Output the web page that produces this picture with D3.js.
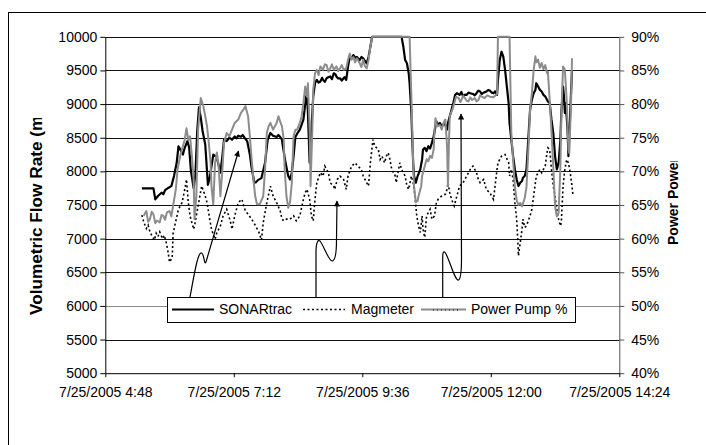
<!DOCTYPE html>
<html><head><meta charset="utf-8">
<script src="https://cdn.jsdelivr.net/npm/d3@7"></script>
<style>
body{margin:0;background:#fff}
svg{display:block}
text{font-family:"Liberation Sans",Arial,sans-serif;fill:#000}
</style>
</head><body>
<svg id="chart" width="706" height="445"></svg>
<script>
// ---------------- data ----------------
const seriesNames = ["SONARtrac", "Magmeter", "Power Pump %"];
const leftTicks = [5000,5500,6000,6500,7000,7500,8000,8500,9000,9500,10000];
const rightTicks = [40,45,50,55,60,65,70,75,80,85,90];
const timeTicks = ["4:48","7:12","9:36","12:00","14:24"];
const leftTitle = "Volumetric Flow Rate (m³/hr)";
const rightTitle = "Power Power %";

const sonarData = [["5:29",7747],["5:42",7747],["5:44",7584],["5:47",7634],["5:51",7683],["5:53",7660],["5:55",7720],["5:59",7757],["6:02",7780],["6:05",7930],["6:08",8127],["6:10",8373],["6:13",8300],["6:15",8250],["6:17",8350],["6:20",8450],["6:22",8350],["6:24",8000],["6:27",7750],["6:29",7950],["6:31",8600],["6:33",8950],["6:35",8800],["6:37",8600],["6:40",8400],["6:42",8000],["6:43",7800],["6:45",7900],["6:49",8250],["6:52",8220],["6:54",8150],["6:57",7980],["6:59",8200],["7:01",8470],["7:04",8450],["7:07",8500],["7:10",8470],["7:13",8520],["7:15",8490],["7:17",8530],["7:20",8515],["7:22",8540],["7:24",8500],["7:27",8450],["7:30",8250],["7:32",8050],["7:35",7830],["7:37",7840],["7:39",7870],["7:43",7900],["7:47",8127],["7:50",8470],["7:53",8570],["7:56",8530],["8:00",8510],["8:02",8540],["8:04",8511],["8:06",8470],["8:07",8373],["8:10",8127],["8:13",7930],["8:15",7880],["8:17",7980],["8:19",8225],["8:21",8511],["8:23",8560],["8:26",8620],["8:30",8768],["8:33",9112],["8:34",9140],["8:35",8890],["8:37",8127],["8:39",8620],["8:41",9112],["8:43",9310],["8:45",9360],["8:47",9320],["8:49",9335],["8:51",9390],["8:52",9360],["8:54",9330],["8:56",9384],["8:58",9400],["9:00",9410],["9:02",9370],["9:04",9458],["9:06",9440],["9:07",9410],["9:09",9380],["9:11",9384],["9:13",9350],["9:15",9384],["9:16",9400],["9:18",9360],["9:20",9556],["9:22",9700],["9:24",9680],["9:26",9729],["9:28",9690],["9:30",9700],["9:33",9650],["9:35",9700],["9:37",9680],["9:39",9640],["9:41",9605],["9:43",9700],["9:45",9850],["9:47",10000],["10:20",10000],["10:22",9852],["10:24",9655],["10:26",9606],["10:28",9458],["10:29",9310],["10:31",8867],["10:32",8473],["10:33",8127],["10:34",7930],["10:36",7832],["10:38",7930],["10:41",8029],["10:43",8177],["10:44",8325],["10:46",8349],["10:48",8300],["10:50",8374],["10:52",8340],["10:54",8423],["10:56",8522],["10:58",8670],["10:59",8744],["11:01",8694],["11:03",8720],["11:05",8670],["11:07",8700],["11:09",8694],["11:11",8620],["11:12",8720],["11:14",8818],["11:16",8917],["11:18",9015],["11:20",9137],["11:22",9162],["11:25",9137],["11:27",9180],["11:29",9112],["11:31",9140],["11:33",9137],["11:35",9170],["11:37",9162],["11:40",9150],["11:42",9130],["11:44",9162],["11:46",9200],["11:48",9186],["11:50",9150],["11:52",9170],["11:55",9186],["11:57",9210],["11:59",9200],["12:01",9170],["12:03",9160],["12:05",9190],["12:07",9136],["12:08",9357],["12:10",9653],["12:12",9778],["12:14",9704],["12:16",9507],["12:18",9260],["12:20",9014],["12:21",8719],["12:23",8472],["12:25",8226],["12:27",8029],["12:29",7880],["12:31",7782],["12:33",7831],["12:35",7856],["12:36",7905],["12:38",7930],["12:40",8029],["12:42",8472],["12:44",8916],["12:46",9063],["12:48",9162],["12:50",9211],["12:51",9310],["12:53",9260],["12:55",9211],["12:57",9186],["12:59",9137],["13:01",9112],["13:03",9063],["13:04",9038],["13:06",9014],["13:08",8768],["13:10",8571],["13:12",8226],["13:14",8029],["13:16",8127],["13:18",8472],["13:19",8867],["13:21",9260],["13:22",9112],["13:23",8867],["13:24",9014],["13:26",8620],["13:27",8226],["13:29",8867],["13:31",9507]];

const magmeterData = [["5:29",7350],["5:31",7250],["5:34",7150],["5:36",7200],["5:38",7100],["5:40",7050],["5:43",6980],["5:45",7080],["5:47",7030],["5:49",7100],["5:52",7000],["5:54",7050],["5:56",6960],["5:58",6830],["6:00",6650],["6:03",6720],["6:04",7080],["6:06",7200],["6:10",7437],["6:14",7535],["6:17",7730],["6:19",7880],["6:21",7535],["6:23",7338],["6:27",7140],["6:28",7190],["6:32",7486],["6:36",7782],["6:40",7634],["6:42",7535],["6:45",7290],["6:47",7140],["6:51",6990],["6:53",7090],["6:57",7190],["7:00",7338],["7:04",7437],["7:08",7265],["7:10",7140],["7:13",7338],["7:17",7535],["7:21",7585],["7:25",7412],["7:28",7363],["7:32",7290],["7:36",7200],["7:40",7100],["7:43",6980],["7:45",7240],["7:49",7535],["7:53",7780],["7:56",7634],["8:00",7535],["8:04",7412],["8:06",7290],["8:08",7265],["8:11",7290],["8:15",7290],["8:19",7338],["8:22",7265],["8:26",7338],["8:30",7585],["8:32",7683],["8:34",7733],["8:37",7585],["8:39",7338],["8:41",7265],["8:43",7585],["8:45",7830],["8:49",7980],["8:52",7930],["8:54",8077],["8:58",7980],["9:00",7830],["9:04",7782],["9:05",7732],["9:08",7880],["9:11",7930],["9:15",7880],["9:18",7732],["9:20",7930],["9:24",8077],["9:28",8127],["9:31",8078],["9:35",8029],["9:37",7930],["9:41",7830],["9:43",7782],["9:45",8127],["9:48",8472],["9:50",8374],["9:54",8325],["9:56",8177],["9:58",8226],["10:01",8127],["10:03",8226],["10:05",8275],["10:07",8177],["10:09",8029],["10:13",7930],["10:14",7832],["10:16",7980],["10:18",8127],["10:20",8029],["10:24",7930],["10:26",7782],["10:28",7733],["10:31",7930],["10:33",7832],["10:35",7634],["10:37",7338],["10:39",7190],["10:41",7092],["10:43",7338],["10:44",7141],["10:46",7018],["10:48",7338],["10:52",7437],["10:54",7289],["10:57",7338],["10:59",7535],["11:01",7584],["11:05",7634],["11:09",7659],["11:11",7733],["11:12",7832],["11:14",7683],["11:16",7585],["11:19",7486],["11:22",7634],["11:25",7782],["11:29",7832],["11:33",7930],["11:37",8029],["11:40",8078],["11:44",7980],["11:46",7880],["11:48",7832],["11:52",7880],["11:55",7730],["11:59",7680],["12:03",7584],["12:07",8029],["12:08",8127],["12:12",8226],["12:16",8250],["12:20",8127],["12:21",7930],["12:23",8029],["12:25",7880],["12:27",7535],["12:29",7290],["12:30",7042],["12:31",6746],["12:33",6943],["12:35",7141],["12:36",7289],["12:38",7166],["12:40",7190],["12:44",7338],["12:46",7437],["12:48",7634],["12:50",7832],["12:51",7930],["12:55",8029],["12:57",7980],["12:59",8029],["13:01",8078],["13:03",8275],["13:04",8349],["13:06",8324],["13:08",8029],["13:10",7782],["13:12",7634],["13:14",7437],["13:16",7289],["13:18",7190],["13:19",7240],["13:21",7782],["13:23",8029],["13:25",8176],["13:27",8127],["13:29",7980],["13:31",7782],["13:32",7659]];

const powerData = [["5:31",63.4],["5:34",64.1],["5:36",62.5],["5:38",62.9],["5:40",64.0],["5:42",63.6],["5:44",62.3],["5:46",62.7],["5:49",62.4],["5:51",63.5],["5:53",63.4],["5:55",62.8],["5:57",63.9],["6:00",64.1],["6:02",63.3],["6:04",64.9],["6:07",67.3],["6:09",70.3],["6:12",72.3],["6:14",73.3],["6:17",74.7],["6:19",76.4],["6:21",74.7],["6:23",75.2],["6:25",72.3],["6:27",68.8],["6:28",62.9],["6:30",66.3],["6:32",76.2],["6:35",80.9],["6:38",79.6],["6:40",78.2],["6:42",76.7],["6:44",74.2],["6:46",71.3],["6:47",67.8],["6:49",65.1],["6:51",71.3],["6:53",72.8],["6:55",70.8],["6:57",66.3],["6:59",69.8],["7:01",74.2],["7:04",75.7],["7:07",75.2],["7:10",76.2],["7:13",77.2],["7:17",77.7],["7:20",78.7],["7:23",79.2],["7:25",79.7],["7:28",78.2],["7:30",75.2],["7:32",71.8],["7:34",68.8],["7:36",66.3],["7:38",65.1],["7:41",65.1],["7:45",66.3],["7:47",70.3],["7:49",75.7],["7:51",76.7],["7:53",77.2],["7:56",76.2],["8:00",77.2],["8:02",78.2],["8:04",77.4],["8:06",76.7],["8:08",74.7],["8:09",70.3],["8:11",66.3],["8:13",64.6],["8:15",65.4],["8:17",68.3],["8:19",75.2],["8:21",76.2],["8:23",76.2],["8:26",77.2],["8:28",78.2],["8:30",80.1],["8:32",82.6],["8:34",81.1],["8:35",83.1],["8:37",76.2],["8:38",67.8],["8:40",76.2],["8:41",82.1],["8:43",84.6],["8:45",85.1],["8:47",84.3],["8:49",85.6],["8:52",85.1],["8:54",85.9],["8:56",85.8],["8:58",84.8],["9:00",85.3],["9:02",85.9],["9:04",85.1],["9:07",85.6],["9:09",84.9],["9:11",85.3],["9:13",85.8],["9:15",85.1],["9:18",85.3],["9:20",86.6],["9:22",87.5],["9:24",86.6],["9:26",87.0],["9:28",86.2],["9:30",86.8],["9:33",86.1],["9:35",85.5],["9:37",86.6],["9:39",85.6],["9:41",85.3],["9:43",86.6],["9:45",88.5],["9:47",90],["10:29",90],["10:31",81.1],["10:32",76.2],["10:33",71.3],["10:34",67.8],["10:36",65.4],["10:38",65.6],["10:39",66.3],["10:42",67.8],["10:43",69.3],["10:46",70.8],["10:48",71.8],["10:50",71.5],["10:52",72.3],["10:54",72.0],["10:56",73.3],["10:57",76.2],["10:58",77.9],["11:00",76.7],["11:03",76.9],["11:05",76.2],["11:07",77.2],["11:09",77.7],["11:11",73.7],["11:12",67.8],["11:13",73.7],["11:14",78.2],["11:17",79.2],["11:19",80.1],["11:21",81.1],["11:24",80.9],["11:26",80.3],["11:27",80.6],["11:29",81.2],["11:31",80.9],["11:33",80.5],["11:35",80.4],["11:37",81.0],["11:39",80.6],["11:42",80.9],["11:44",80.4],["11:46",80.6],["11:48",81.3],["11:50",81.1],["11:53",80.9],["11:56",81.3],["11:59",81.1],["12:03",81.0],["12:07",81.5],["12:08",90],["12:21",90],["12:23",75.7],["12:27",67.7],["12:29",65.7],["12:31",65.0],["12:33",65.3],["12:35",64.8],["12:36",65.2],["12:38",66.0],["12:40",67.7],["12:42",73.0],["12:44",79.1],["12:46",81.6],["12:48",85.0],["12:50",87.1],["12:51",86.2],["12:53",86.6],["12:55",85.4],["12:57",86.1],["12:59",85.2],["13:01",85.8],["13:03",84.6],["13:04",84.8],["13:06",80.6],["13:08",76.0],["13:10",70.7],["13:12",64.8],["13:14",63.3],["13:16",63.8],["13:18",70.7],["13:19",78.1],["13:21",85.6],["13:23",85.1],["13:25",80.6],["13:27",73.2],["13:28",72.7],["13:30",80.6],["13:31",86.8]];

// ---------------- chart ----------------
const toDate = s => { const [h, m] = s.split(":").map(Number); return new Date(2005, 6, 25, h, m); };
const svg = d3.select("#chart");
const plot = {left: 105.3, right: 619.3, top: 36.8, bottom: 373.2};

const x = d3.scaleTime().domain([toDate("4:48"), toDate("14:24")]).range([plot.left, plot.right]);
const yL = d3.scaleLinear().domain([5000, 10000]).range([plot.bottom, plot.top]);
const yR = d3.scaleLinear().domain([40, 90]).range([plot.bottom, plot.top]);

// outer frame
svg.append("rect").attr("x", 8.5).attr("y", 12.5).attr("width", 800).attr("height", 500)
  .attr("fill", "none").attr("stroke", "#000").attr("stroke-width", 1);

// gridlines
svg.append("g").selectAll("line").data(leftTicks.filter(d => d !== 5000)).join("line")
  .attr("x1", plot.left).attr("x2", plot.right)
  .attr("y1", d => Math.round(yL(d)) + 0.5).attr("y2", d => Math.round(yL(d)) + 0.5)
  .attr("stroke", d => d === 6000 ? "#8a8a8a" : "#111").attr("stroke-width", 1);

// clip
svg.append("clipPath").attr("id", "pc").append("rect")
  .attr("x", plot.left).attr("y", plot.top - 2).attr("width", plot.right - plot.left).attr("height", plot.bottom - plot.top + 2);

const fs = "14px";
// axes
const axL = svg.append("g").attr("transform", `translate(${plot.left},0)`)
  .call(d3.axisLeft(yL).tickValues(leftTicks).tickFormat(d3.format("d")).tickSize(5).tickSizeOuter(0).tickPadding(3));
const axR = svg.append("g").attr("transform", `translate(${plot.right},0)`)
  .call(d3.axisRight(yR).tickValues(rightTicks).tickFormat(d => d + "%").tickSize(5).tickSizeOuter(0).tickPadding(7));
const axB = svg.append("g").attr("transform", `translate(0,${plot.bottom})`)
  .call(d3.axisBottom(x).tickValues(timeTicks.map(toDate)).tickFormat(d3.timeFormat("%-m/%-d/%Y %-H:%M")).tickSize(4).tickSizeOuter(0).tickPadding(10));
[axL, axR, axB].forEach(a => {
  a.selectAll("text").style("font-size", fs).style("font-family", '"Liberation Sans",Arial,sans-serif').attr("fill", "#000");
  a.selectAll("line").attr("stroke", "#000");
  a.select(".domain").attr("stroke", "#000");
});
axR.select(".domain").attr("stroke", "#555");
axR.selectAll("line").attr("stroke", "#555");

// series
const g = svg.append("g").attr("clip-path", "url(#pc)");
const lineL = d3.line().x(d => x(toDate(d[0]))).y(d => yL(d[1]));
const lineR = d3.line().x(d => x(toDate(d[0]))).y(d => yR(d[1]));
const styles = [
  {stroke: "#000", width: 2.2, dash: null},
  {stroke: "#000", width: 1.6, dash: "2,2.5"},
  {stroke: "#8c8c8c", width: 2, dash: null}
];
g.append("path").datum(magmeterData).attr("d", lineL).attr("fill", "none")
  .attr("stroke", styles[1].stroke).attr("stroke-width", styles[1].width).attr("stroke-dasharray", styles[1].dash);
g.append("path").datum(sonarData).attr("d", lineL).attr("fill", "none")
  .attr("stroke", styles[0].stroke).attr("stroke-width", styles[0].width).attr("stroke-linejoin", "round");
g.append("path").datum(powerData).attr("d", lineR).attr("fill", "none")
  .attr("stroke", styles[2].stroke).attr("stroke-width", styles[2].width).attr("stroke-linejoin", "round");

// legend
const lg = svg.append("g");
lg.append("rect").attr("x", 167.5).attr("y", 297.5).attr("width", 408).attr("height", 25)
  .attr("fill", "#fff").attr("stroke", "#000");
const legendItems = [
  {x0: 172, x1: 214, tx: 219},
  {x0: 303, x1: 345, tx: 351},
  {x0: 421, x1: 466, tx: 471}
];
const ly = 309.5;
legendItems.forEach((it, i) => {
  const st = styles[i];
  lg.append("line").attr("x1", it.x0).attr("x2", it.x1).attr("y1", ly).attr("y2", ly)
    .attr("stroke", st.stroke).attr("stroke-width", st.width).attr("stroke-dasharray", st.dash);
  if (i === 2) {
    lg.append("line").attr("x1", it.x0 + 12).attr("x2", it.x1 - 8).attr("y1", ly + 0.5).attr("y2", ly + 0.5)
      .attr("stroke", "#000").attr("stroke-width", 1).attr("stroke-dasharray", "1,3");
  }
  lg.append("text").attr("x", it.tx).attr("y", ly).attr("dy", "0.35em")
    .style("font-size", fs).text(seriesNames[i]);
});

// annotation connectors
const defs = svg.append("defs");
defs.append("marker").attr("id", "ah").attr("viewBox", "0 0 10 10").attr("refX", 9).attr("refY", 5)
  .attr("markerWidth", 7).attr("markerHeight", 6).attr("markerUnits", "userSpaceOnUse").attr("orient", "auto")
  .append("path").attr("d", "M0,0L10,5L0,10z").attr("fill", "#000");
const connectors = [
  "M190,297 C195,270 198,252 201.5,253 C204.5,254 204,266 206,262 L238.5,151",
  "M316,297 L316,252 C316,243 318,239 320,241 C324,246 329,262 332.5,261 C335.5,260 336.5,252 336.5,240 L337,201",
  "M442.7,297 L442.7,258 C442.7,252 443.5,250.5 445.5,253 C450,261 455,281 458.5,280 C461,279 461.5,270 461.5,258 L461,114"
];
svg.append("g").selectAll("path").data(connectors).join("path")
  .attr("d", d => d).attr("fill", "none").attr("stroke", "#000").attr("stroke-width", 1.2)
  .attr("marker-end", "url(#ah)");

// axis titles (clipped like the original)
svg.append("clipPath").attr("id", "lt").append("rect").attr("x", 0).attr("y", 118).attr("width", 80).attr("height", 300);
svg.append("g").attr("clip-path", "url(#lt)")
  .append("text").attr("transform", "translate(42,315) rotate(-90)")
  .style("font-size", "17.2px").style("font-weight", "bold").text(leftTitle);
svg.append("clipPath").attr("id", "rt").append("rect").attr("x", 650).attr("y", 161).attr("width", 56).attr("height", 120);
svg.append("g").attr("clip-path", "url(#rt)")
  .append("text").attr("transform", "translate(678,245) rotate(-90)")
  .style("font-size", "14px").style("font-weight", "bold").text(rightTitle);
</script>
</body></html>
